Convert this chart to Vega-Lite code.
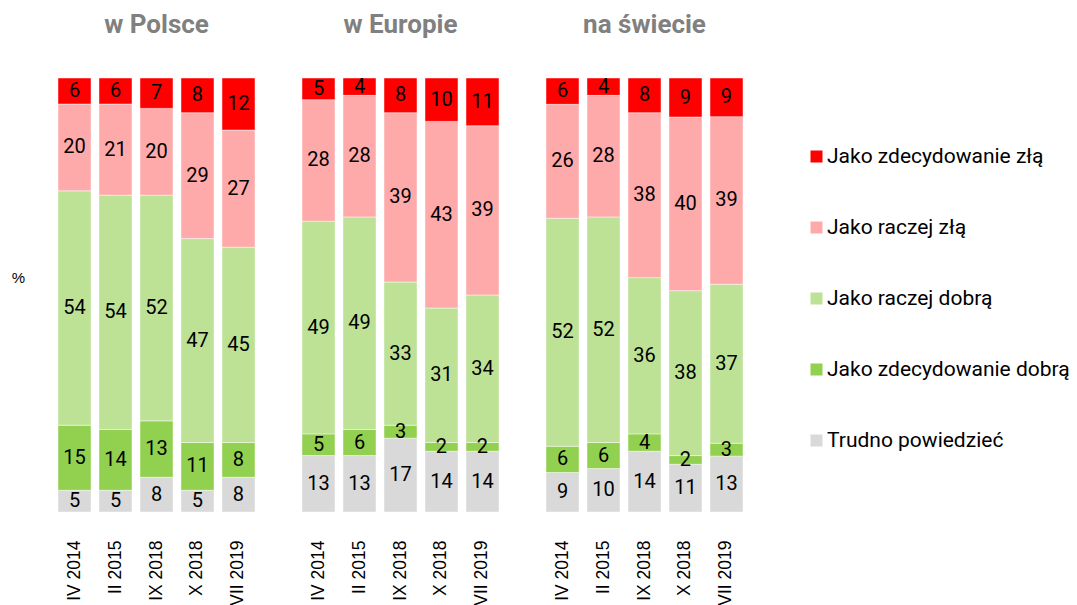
{
  "$schema": "https://vega.github.io/schema/vega-lite/v6.json",
  "padding": {"left": 11, "top": 12, "right": 5, "bottom": 5},
  "background": "white",
  "config": {"view": {"stroke": null}, "font": "Roboto"},
  "datasets": {
    "d": [
      {"r": "w Polsce", "t": "IV 2014", "c": "Trudno powiedzieć", "k": 1, "v": 5},
      {"r": "w Polsce", "t": "IV 2014", "c": "Jako zdecydowanie dobrą", "k": 2, "v": 15},
      {"r": "w Polsce", "t": "IV 2014", "c": "Jako raczej dobrą", "k": 3, "v": 54},
      {"r": "w Polsce", "t": "IV 2014", "c": "Jako raczej złą", "k": 4, "v": 20},
      {"r": "w Polsce", "t": "IV 2014", "c": "Jako zdecydowanie złą", "k": 5, "v": 6},
      {"r": "w Polsce", "t": "II 2015", "c": "Trudno powiedzieć", "k": 1, "v": 5},
      {"r": "w Polsce", "t": "II 2015", "c": "Jako zdecydowanie dobrą", "k": 2, "v": 14},
      {"r": "w Polsce", "t": "II 2015", "c": "Jako raczej dobrą", "k": 3, "v": 54},
      {"r": "w Polsce", "t": "II 2015", "c": "Jako raczej złą", "k": 4, "v": 21},
      {"r": "w Polsce", "t": "II 2015", "c": "Jako zdecydowanie złą", "k": 5, "v": 6},
      {"r": "w Polsce", "t": "IX 2018", "c": "Trudno powiedzieć", "k": 1, "v": 8},
      {"r": "w Polsce", "t": "IX 2018", "c": "Jako zdecydowanie dobrą", "k": 2, "v": 13},
      {"r": "w Polsce", "t": "IX 2018", "c": "Jako raczej dobrą", "k": 3, "v": 52},
      {"r": "w Polsce", "t": "IX 2018", "c": "Jako raczej złą", "k": 4, "v": 20},
      {"r": "w Polsce", "t": "IX 2018", "c": "Jako zdecydowanie złą", "k": 5, "v": 7},
      {"r": "w Polsce", "t": "X 2018", "c": "Trudno powiedzieć", "k": 1, "v": 5},
      {"r": "w Polsce", "t": "X 2018", "c": "Jako zdecydowanie dobrą", "k": 2, "v": 11},
      {"r": "w Polsce", "t": "X 2018", "c": "Jako raczej dobrą", "k": 3, "v": 47},
      {"r": "w Polsce", "t": "X 2018", "c": "Jako raczej złą", "k": 4, "v": 29},
      {"r": "w Polsce", "t": "X 2018", "c": "Jako zdecydowanie złą", "k": 5, "v": 8},
      {"r": "w Polsce", "t": "VII 2019", "c": "Trudno powiedzieć", "k": 1, "v": 8},
      {"r": "w Polsce", "t": "VII 2019", "c": "Jako zdecydowanie dobrą", "k": 2, "v": 8},
      {"r": "w Polsce", "t": "VII 2019", "c": "Jako raczej dobrą", "k": 3, "v": 45},
      {"r": "w Polsce", "t": "VII 2019", "c": "Jako raczej złą", "k": 4, "v": 27},
      {"r": "w Polsce", "t": "VII 2019", "c": "Jako zdecydowanie złą", "k": 5, "v": 12},
      {"r": "w Europie", "t": "IV 2014", "c": "Trudno powiedzieć", "k": 1, "v": 13},
      {"r": "w Europie", "t": "IV 2014", "c": "Jako zdecydowanie dobrą", "k": 2, "v": 5},
      {"r": "w Europie", "t": "IV 2014", "c": "Jako raczej dobrą", "k": 3, "v": 49},
      {"r": "w Europie", "t": "IV 2014", "c": "Jako raczej złą", "k": 4, "v": 28},
      {"r": "w Europie", "t": "IV 2014", "c": "Jako zdecydowanie złą", "k": 5, "v": 5},
      {"r": "w Europie", "t": "II 2015", "c": "Trudno powiedzieć", "k": 1, "v": 13},
      {"r": "w Europie", "t": "II 2015", "c": "Jako zdecydowanie dobrą", "k": 2, "v": 6},
      {"r": "w Europie", "t": "II 2015", "c": "Jako raczej dobrą", "k": 3, "v": 49},
      {"r": "w Europie", "t": "II 2015", "c": "Jako raczej złą", "k": 4, "v": 28},
      {"r": "w Europie", "t": "II 2015", "c": "Jako zdecydowanie złą", "k": 5, "v": 4},
      {"r": "w Europie", "t": "IX 2018", "c": "Trudno powiedzieć", "k": 1, "v": 17},
      {"r": "w Europie", "t": "IX 2018", "c": "Jako zdecydowanie dobrą", "k": 2, "v": 3},
      {"r": "w Europie", "t": "IX 2018", "c": "Jako raczej dobrą", "k": 3, "v": 33},
      {"r": "w Europie", "t": "IX 2018", "c": "Jako raczej złą", "k": 4, "v": 39},
      {"r": "w Europie", "t": "IX 2018", "c": "Jako zdecydowanie złą", "k": 5, "v": 8},
      {"r": "w Europie", "t": "X 2018", "c": "Trudno powiedzieć", "k": 1, "v": 14},
      {"r": "w Europie", "t": "X 2018", "c": "Jako zdecydowanie dobrą", "k": 2, "v": 2},
      {"r": "w Europie", "t": "X 2018", "c": "Jako raczej dobrą", "k": 3, "v": 31},
      {"r": "w Europie", "t": "X 2018", "c": "Jako raczej złą", "k": 4, "v": 43},
      {"r": "w Europie", "t": "X 2018", "c": "Jako zdecydowanie złą", "k": 5, "v": 10},
      {"r": "w Europie", "t": "VII 2019", "c": "Trudno powiedzieć", "k": 1, "v": 14},
      {"r": "w Europie", "t": "VII 2019", "c": "Jako zdecydowanie dobrą", "k": 2, "v": 2},
      {"r": "w Europie", "t": "VII 2019", "c": "Jako raczej dobrą", "k": 3, "v": 34},
      {"r": "w Europie", "t": "VII 2019", "c": "Jako raczej złą", "k": 4, "v": 39},
      {"r": "w Europie", "t": "VII 2019", "c": "Jako zdecydowanie złą", "k": 5, "v": 11},
      {"r": "na świecie", "t": "IV 2014", "c": "Trudno powiedzieć", "k": 1, "v": 9},
      {"r": "na świecie", "t": "IV 2014", "c": "Jako zdecydowanie dobrą", "k": 2, "v": 6},
      {"r": "na świecie", "t": "IV 2014", "c": "Jako raczej dobrą", "k": 3, "v": 52},
      {"r": "na świecie", "t": "IV 2014", "c": "Jako raczej złą", "k": 4, "v": 26},
      {"r": "na świecie", "t": "IV 2014", "c": "Jako zdecydowanie złą", "k": 5, "v": 6},
      {"r": "na świecie", "t": "II 2015", "c": "Trudno powiedzieć", "k": 1, "v": 10},
      {"r": "na świecie", "t": "II 2015", "c": "Jako zdecydowanie dobrą", "k": 2, "v": 6},
      {"r": "na świecie", "t": "II 2015", "c": "Jako raczej dobrą", "k": 3, "v": 52},
      {"r": "na świecie", "t": "II 2015", "c": "Jako raczej złą", "k": 4, "v": 28},
      {"r": "na świecie", "t": "II 2015", "c": "Jako zdecydowanie złą", "k": 5, "v": 4},
      {"r": "na świecie", "t": "IX 2018", "c": "Trudno powiedzieć", "k": 1, "v": 14},
      {"r": "na świecie", "t": "IX 2018", "c": "Jako zdecydowanie dobrą", "k": 2, "v": 4},
      {"r": "na świecie", "t": "IX 2018", "c": "Jako raczej dobrą", "k": 3, "v": 36},
      {"r": "na świecie", "t": "IX 2018", "c": "Jako raczej złą", "k": 4, "v": 38},
      {"r": "na świecie", "t": "IX 2018", "c": "Jako zdecydowanie złą", "k": 5, "v": 8},
      {"r": "na świecie", "t": "X 2018", "c": "Trudno powiedzieć", "k": 1, "v": 11},
      {"r": "na świecie", "t": "X 2018", "c": "Jako zdecydowanie dobrą", "k": 2, "v": 2},
      {"r": "na świecie", "t": "X 2018", "c": "Jako raczej dobrą", "k": 3, "v": 38},
      {"r": "na świecie", "t": "X 2018", "c": "Jako raczej złą", "k": 4, "v": 40},
      {"r": "na świecie", "t": "X 2018", "c": "Jako zdecydowanie złą", "k": 5, "v": 9},
      {"r": "na świecie", "t": "VII 2019", "c": "Trudno powiedzieć", "k": 1, "v": 13},
      {"r": "na świecie", "t": "VII 2019", "c": "Jako zdecydowanie dobrą", "k": 2, "v": 3},
      {"r": "na świecie", "t": "VII 2019", "c": "Jako raczej dobrą", "k": 3, "v": 37},
      {"r": "na świecie", "t": "VII 2019", "c": "Jako raczej złą", "k": 4, "v": 39},
      {"r": "na świecie", "t": "VII 2019", "c": "Jako zdecydowanie złą", "k": 5, "v": 9}
    ]
  },
  "data": {"name": "d"},
  "facet": {
    "column": {
      "field": "r",
      "type": "nominal",
      "sort": ["w Polsce", "w Europie", "na świecie"],
      "header": {
        "title": null,
        "labelFontSize": 26,
        "labelFontWeight": "bold",
        "labelColor": "#808080",
        "labelFont": "Roboto",
        "labelPadding": 38
      }
    }
  },
  "spacing": 45,
  "resolve": {"scale": {"x": "independent"}, "axis": {"x": "independent"}},
  "spec": {
    "width": 197,
    "height": 434,
    "encoding": {
      "x": {
        "field": "t",
        "type": "nominal",
        "sort": ["IV 2014", "II 2015", "IX 2018", "X 2018", "VII 2019"],
        "scale": {"paddingInner": 0.195, "paddingOuter": 0},
        "axis": {
          "title": null,
          "labelAngle": 270,
          "labelFontSize": 17.5,
          "labelFont": "Liberation Sans",
          "labelColor": "black",
          "ticks": false,
          "domain": false,
          "labelPadding": 28
        }
      },
      "order": {"field": "k", "type": "quantitative", "sort": "ascending"}
    },
    "layer": [
      {
        "mark": {"type": "bar", "stroke": "white", "strokeWidth": 1, "strokeOpacity": 0.45},
        "encoding": {
          "y": {
            "field": "v",
            "type": "quantitative",
            "stack": "normalize",
            "axis": {
              "title": "%",
              "labels": false,
              "ticks": false,
              "domain": false,
              "grid": false,
              "titleAngle": 0,
              "titleX": -39,
              "titleY": 199,
              "titleAlign": "center",
              "titleBaseline": "middle",
              "titleFontWeight": "normal",
              "titleFontSize": 15,
              "titleFont": "Liberation Sans",
              "titleColor": "black"
            }
          },
          "color": {
            "field": "c",
            "type": "nominal",
            "scale": {
              "domain": ["Jako zdecydowanie złą", "Jako raczej złą", "Jako raczej dobrą", "Jako zdecydowanie dobrą", "Trudno powiedzieć"],
              "range": ["#ff0000", "#ffaaaa", "#bde295", "#92d050", "#d9d9d9"]
            },
            "legend": {
              "title": null,
              "orient": "none",
              "legendX": 748,
              "legendY": 68,
              "symbolType": "square",
              "symbolSize": 144,
              "symbolStrokeWidth": 0,
              "labelFontSize": 21,
              "labelFont": "Roboto",
              "labelColor": "black",
              "labelOffset": 0,
              "rowPadding": 49,
              "labelLimit": 400
            }
          }
        }
      },
      {
        "mark": {"type": "text", "fontSize": 20, "font": "Roboto", "color": "black", "baseline": "middle"},
        "encoding": {
          "y": {"field": "v", "type": "quantitative", "stack": "normalize", "bandPosition": 0.5},
          "text": {"field": "v", "type": "quantitative"}
        }
      }
    ]
  }
}
